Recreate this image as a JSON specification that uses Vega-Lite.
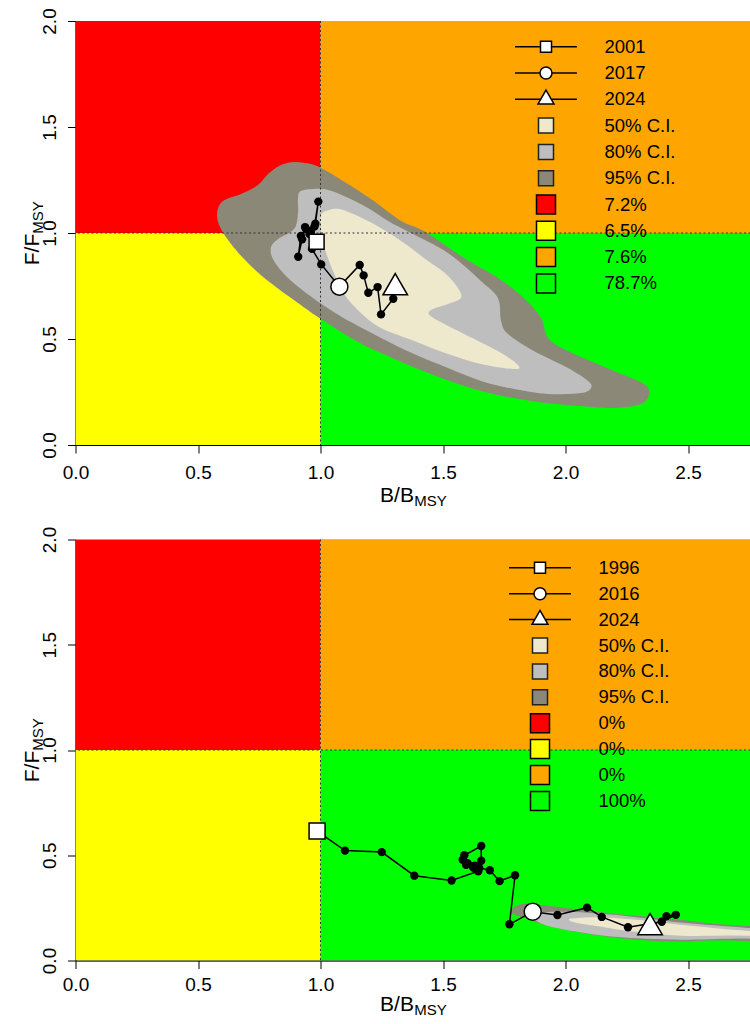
{
  "$schema": "https://vega.github.io/schema/vega-lite/v6.json",
  "background": "white",
  "padding": {"left": 20.5, "top": 7, "right": 0, "bottom": 0},
  "spacing": 16.5,
  "resolve": {"scale": {"fill": "independent", "shape": "independent", "stroke": "independent", "color": "independent"}, "legend": {"fill": "independent", "shape": "independent", "stroke": "independent"}},
  "config": {
    "view": {"stroke": "#888", "strokeWidth": 1},
    "font": "Liberation Sans",
    "axis": {"grid": false, "labelFont": "Liberation Sans", "labelFontSize": 19, "labelColor": "black", "titleFont": "Liberation Sans", "titleColor": "black", "titleFontWeight": "normal", "tickColor": "black", "domainColor": "black", "tickSize": 8, "labelFlush": false, "labelOverlap": false, "zindex": 1},
    "legend": {"title": null, "orient": "none", "labelFont": "Liberation Sans", "labelFontSize": 18.5, "labelColor": "black", "symbolSize": 361, "symbolStrokeWidth": 1.5, "labelLimit": 300, "padding": 0, "symbolOffset": 0, "labelExpr": "trim(datum.label)"}
  },
  "datasets": {
    "quad": [
      {"x1": 0, "x2": 1, "y1": 1, "y2": 2, "zone": "lowB_highF"},
      {"x1": 1, "x2": 3, "y1": 1, "y2": 2, "zone": "highB_highF"},
      {"x1": 0, "x2": 1, "y1": 0, "y2": 1, "zone": "lowB_lowF"},
      {"x1": 1, "x2": 3, "y1": 0, "y2": 1, "zone": "highB_lowF"}
    ],
    "ci_top": [
      {"level": 95, "i": 0, "x": 0.578, "y": 1.094}, {"level": 95, "i": 1, "x": 0.602, "y": 1.151}, {"level": 95, "i": 2, "x": 0.676, "y": 1.184}, {"level": 95, "i": 3, "x": 0.745, "y": 1.226}, {"level": 95, "i": 4, "x": 0.786, "y": 1.278}, {"level": 95, "i": 5, "x": 0.839, "y": 1.321}, {"level": 95, "i": 6, "x": 0.896, "y": 1.335}, {"level": 95, "i": 7, "x": 0.961, "y": 1.325}, {"level": 95, "i": 8, "x": 1.010, "y": 1.302}, {"level": 95, "i": 9, "x": 1.112, "y": 1.231}, {"level": 95, "i": 10, "x": 1.218, "y": 1.151}, {"level": 95, "i": 11, "x": 1.329, "y": 1.057}, {"level": 95, "i": 12, "x": 1.422, "y": 1.009}, {"level": 95, "i": 13, "x": 1.586, "y": 0.882}, {"level": 95, "i": 14, "x": 1.724, "y": 0.788}, {"level": 95, "i": 15, "x": 1.830, "y": 0.693}, {"level": 95, "i": 16, "x": 1.900, "y": 0.599}, {"level": 95, "i": 17, "x": 1.929, "y": 0.505}, {"level": 95, "i": 18, "x": 2.010, "y": 0.443}, {"level": 95, "i": 19, "x": 2.198, "y": 0.349}, {"level": 95, "i": 20, "x": 2.320, "y": 0.288}, {"level": 95, "i": 21, "x": 2.341, "y": 0.241}, {"level": 95, "i": 22, "x": 2.308, "y": 0.193}, {"level": 95, "i": 23, "x": 2.198, "y": 0.175}, {"level": 95, "i": 24, "x": 2.063, "y": 0.184}, {"level": 95, "i": 25, "x": 1.859, "y": 0.208}, {"level": 95, "i": 26, "x": 1.655, "y": 0.255}, {"level": 95, "i": 27, "x": 1.451, "y": 0.335}, {"level": 95, "i": 28, "x": 1.247, "y": 0.434}, {"level": 95, "i": 29, "x": 1.124, "y": 0.505}, {"level": 95, "i": 30, "x": 1.002, "y": 0.594}, {"level": 95, "i": 31, "x": 0.908, "y": 0.670}, {"level": 95, "i": 32, "x": 0.786, "y": 0.774}, {"level": 95, "i": 33, "x": 0.704, "y": 0.858}, {"level": 95, "i": 34, "x": 0.635, "y": 0.948}, {"level": 95, "i": 35, "x": 0.590, "y": 1.028},
      {"level": 80, "i": 0, "x": 0.920, "y": 1.198}, {"level": 80, "i": 1, "x": 0.973, "y": 1.208}, {"level": 80, "i": 2, "x": 1.031, "y": 1.203}, {"level": 80, "i": 3, "x": 1.096, "y": 1.175}, {"level": 80, "i": 4, "x": 1.194, "y": 1.118}, {"level": 80, "i": 5, "x": 1.276, "y": 1.057}, {"level": 80, "i": 6, "x": 1.369, "y": 1.000}, {"level": 80, "i": 7, "x": 1.520, "y": 0.906}, {"level": 80, "i": 8, "x": 1.655, "y": 0.774}, {"level": 80, "i": 9, "x": 1.724, "y": 0.693}, {"level": 80, "i": 10, "x": 1.737, "y": 0.585}, {"level": 80, "i": 11, "x": 1.765, "y": 0.524}, {"level": 80, "i": 12, "x": 1.871, "y": 0.443}, {"level": 80, "i": 13, "x": 2.010, "y": 0.363}, {"level": 80, "i": 14, "x": 2.092, "y": 0.302}, {"level": 80, "i": 15, "x": 2.104, "y": 0.269}, {"level": 80, "i": 16, "x": 2.063, "y": 0.245}, {"level": 80, "i": 17, "x": 1.929, "y": 0.241}, {"level": 80, "i": 18, "x": 1.790, "y": 0.264}, {"level": 80, "i": 19, "x": 1.655, "y": 0.302}, {"level": 80, "i": 20, "x": 1.520, "y": 0.363}, {"level": 80, "i": 21, "x": 1.382, "y": 0.429}, {"level": 80, "i": 22, "x": 1.247, "y": 0.505}, {"level": 80, "i": 23, "x": 1.124, "y": 0.580}, {"level": 80, "i": 24, "x": 1.035, "y": 0.642}, {"level": 80, "i": 25, "x": 0.941, "y": 0.717}, {"level": 80, "i": 26, "x": 0.859, "y": 0.797}, {"level": 80, "i": 27, "x": 0.806, "y": 0.877}, {"level": 80, "i": 28, "x": 0.798, "y": 0.934}, {"level": 80, "i": 29, "x": 0.827, "y": 0.972}, {"level": 80, "i": 30, "x": 0.892, "y": 1.019}, {"level": 80, "i": 31, "x": 0.908, "y": 1.090}, {"level": 80, "i": 32, "x": 0.908, "y": 1.165},
      {"level": 50, "i": 0, "x": 1.002, "y": 1.085}, {"level": 50, "i": 1, "x": 1.035, "y": 1.108}, {"level": 50, "i": 2, "x": 1.076, "y": 1.113}, {"level": 50, "i": 3, "x": 1.124, "y": 1.094}, {"level": 50, "i": 4, "x": 1.218, "y": 1.042}, {"level": 50, "i": 5, "x": 1.329, "y": 0.962}, {"level": 50, "i": 6, "x": 1.439, "y": 0.868}, {"level": 50, "i": 7, "x": 1.512, "y": 0.807}, {"level": 50, "i": 8, "x": 1.561, "y": 0.741}, {"level": 50, "i": 9, "x": 1.573, "y": 0.693}, {"level": 50, "i": 10, "x": 1.520, "y": 0.665}, {"level": 50, "i": 11, "x": 1.451, "y": 0.637}, {"level": 50, "i": 12, "x": 1.455, "y": 0.604}, {"level": 50, "i": 13, "x": 1.586, "y": 0.524}, {"level": 50, "i": 14, "x": 1.724, "y": 0.443}, {"level": 50, "i": 15, "x": 1.806, "y": 0.377}, {"level": 50, "i": 16, "x": 1.790, "y": 0.358}, {"level": 50, "i": 17, "x": 1.655, "y": 0.382}, {"level": 50, "i": 18, "x": 1.520, "y": 0.429}, {"level": 50, "i": 19, "x": 1.382, "y": 0.491}, {"level": 50, "i": 20, "x": 1.247, "y": 0.552}, {"level": 50, "i": 21, "x": 1.165, "y": 0.623}, {"level": 50, "i": 22, "x": 1.096, "y": 0.712}, {"level": 50, "i": 23, "x": 1.051, "y": 0.821}, {"level": 50, "i": 24, "x": 1.018, "y": 0.925}, {"level": 50, "i": 25, "x": 1.002, "y": 1.009}
    ],
    "ci_bot": [
      {"level": 95, "i": 0, "x": 1.782, "y": 0.246}, {"level": 95, "i": 1, "x": 1.831, "y": 0.270}, {"level": 95, "i": 2, "x": 1.929, "y": 0.260}, {"level": 95, "i": 3, "x": 2.063, "y": 0.241}, {"level": 95, "i": 4, "x": 2.198, "y": 0.222}, {"level": 95, "i": 5, "x": 2.337, "y": 0.208}, {"level": 95, "i": 6, "x": 2.471, "y": 0.194}, {"level": 95, "i": 7, "x": 2.606, "y": 0.175}, {"level": 95, "i": 8, "x": 2.798, "y": 0.161}, {"level": 95, "i": 9, "x": 2.920, "y": 0.151}, {"level": 95, "i": 10, "x": 2.920, "y": 0.080}, {"level": 95, "i": 11, "x": 2.798, "y": 0.090}, {"level": 95, "i": 12, "x": 2.606, "y": 0.095}, {"level": 95, "i": 13, "x": 2.471, "y": 0.090}, {"level": 95, "i": 14, "x": 2.337, "y": 0.095}, {"level": 95, "i": 15, "x": 2.198, "y": 0.109}, {"level": 95, "i": 16, "x": 2.063, "y": 0.132}, {"level": 95, "i": 17, "x": 1.929, "y": 0.165}, {"level": 95, "i": 18, "x": 1.831, "y": 0.203}, {"level": 95, "i": 19, "x": 1.786, "y": 0.222},
      {"level": 80, "i": 0, "x": 1.880, "y": 0.222}, {"level": 80, "i": 1, "x": 1.994, "y": 0.232}, {"level": 80, "i": 2, "x": 2.198, "y": 0.217}, {"level": 80, "i": 3, "x": 2.471, "y": 0.180}, {"level": 80, "i": 4, "x": 2.729, "y": 0.156}, {"level": 80, "i": 5, "x": 2.920, "y": 0.142}, {"level": 80, "i": 6, "x": 2.920, "y": 0.095}, {"level": 80, "i": 7, "x": 2.729, "y": 0.104}, {"level": 80, "i": 8, "x": 2.471, "y": 0.099}, {"level": 80, "i": 9, "x": 2.198, "y": 0.113}, {"level": 80, "i": 10, "x": 1.994, "y": 0.147}, {"level": 80, "i": 11, "x": 1.892, "y": 0.180},
      {"level": 50, "i": 0, "x": 2.022, "y": 0.199}, {"level": 50, "i": 1, "x": 2.133, "y": 0.206}, {"level": 50, "i": 2, "x": 2.267, "y": 0.196}, {"level": 50, "i": 3, "x": 2.471, "y": 0.170}, {"level": 50, "i": 4, "x": 2.729, "y": 0.142}, {"level": 50, "i": 5, "x": 2.920, "y": 0.132}, {"level": 50, "i": 6, "x": 2.920, "y": 0.109}, {"level": 50, "i": 7, "x": 2.729, "y": 0.118}, {"level": 50, "i": 8, "x": 2.471, "y": 0.118}, {"level": 50, "i": 9, "x": 2.267, "y": 0.139}, {"level": 50, "i": 10, "x": 2.133, "y": 0.163}, {"level": 50, "i": 11, "x": 2.035, "y": 0.182}
    ],
    "traj_top": [
      {"year": 2001, "b": 0.984, "f": 0.959}, {"year": 2002, "b": 0.960, "f": 1.000}, {"year": 2003, "b": 0.940, "f": 1.020}, {"year": 2004, "b": 0.920, "f": 0.986}, {"year": 2005, "b": 0.909, "f": 0.888}, {"year": 2006, "b": 0.925, "f": 0.970}, {"year": 2007, "b": 0.937, "f": 1.028}, {"year": 2008, "b": 0.960, "f": 1.010}, {"year": 2009, "b": 0.979, "f": 1.044}, {"year": 2010, "b": 0.991, "f": 1.148}, {"year": 2011, "b": 0.975, "f": 1.030}, {"year": 2012, "b": 0.955, "f": 0.995}, {"year": 2013, "b": 0.970, "f": 0.975}, {"year": 2014, "b": 0.990, "f": 0.940}, {"year": 2015, "b": 0.965, "f": 0.925}, {"year": 2016, "b": 1.003, "f": 0.852}, {"year": 2017, "b": 1.077, "f": 0.747}, {"year": 2018, "b": 1.160, "f": 0.849}, {"year": 2019, "b": 1.176, "f": 0.800}, {"year": 2020, "b": 1.195, "f": 0.718}, {"year": 2021, "b": 1.233, "f": 0.745}, {"year": 2022, "b": 1.247, "f": 0.616}, {"year": 2023, "b": 1.297, "f": 0.690}, {"year": 2024, "b": 1.305, "f": 0.742}
    ],
    "traj_bot": [
      {"year": 1996, "b": 0.986, "f": 0.615}, {"year": 1997, "b": 1.100, "f": 0.522}, {"year": 1998, "b": 1.250, "f": 0.515}, {"year": 1999, "b": 1.383, "f": 0.403}, {"year": 2000, "b": 1.535, "f": 0.380}, {"year": 2001, "b": 1.644, "f": 0.424}, {"year": 2002, "b": 1.621, "f": 0.448}, {"year": 2003, "b": 1.594, "f": 0.455}, {"year": 2004, "b": 1.580, "f": 0.479}, {"year": 2005, "b": 1.587, "f": 0.500}, {"year": 2006, "b": 1.656, "f": 0.544}, {"year": 2007, "b": 1.656, "f": 0.474}, {"year": 2008, "b": 1.630, "f": 0.450}, {"year": 2009, "b": 1.600, "f": 0.462}, {"year": 2010, "b": 1.625, "f": 0.440}, {"year": 2011, "b": 1.648, "f": 0.440}, {"year": 2012, "b": 1.691, "f": 0.429}, {"year": 2013, "b": 1.731, "f": 0.377}, {"year": 2014, "b": 1.794, "f": 0.405}, {"year": 2015, "b": 1.771, "f": 0.172}, {"year": 2016, "b": 1.866, "f": 0.232}, {"year": 2017, "b": 1.967, "f": 0.216}, {"year": 2018, "b": 2.088, "f": 0.251}, {"year": 2019, "b": 2.148, "f": 0.207}, {"year": 2020, "b": 2.255, "f": 0.158}, {"year": 2021, "b": 2.393, "f": 0.184}, {"year": 2022, "b": 2.450, "f": 0.217}, {"year": 2023, "b": 2.412, "f": 0.211}, {"year": 2024, "b": 2.345, "f": 0.156}
    ],
    "leg_top": [{"item": "2001"}, {"item": "2017"}, {"item": "2024"}, {"item": "50% C.I."}, {"item": "80% C.I."}, {"item": "95% C.I."}, {"item": "7.2%"}, {"item": "6.5%"}, {"item": "7.6%"}, {"item": "78.7%"}],
    "leg_bot": [{"item": "1996"}, {"item": "2016"}, {"item": "2024"}, {"item": "50% C.I."}, {"item": "80% C.I."}, {"item": "95% C.I."}, {"item": "0% "}, {"item": "0%  "}, {"item": "0%   "}, {"item": "100%"}]
  },
  "vconcat": [
    {
      "width": 675, "height": 424,
      "resolve": {"scale": {"x": "independent", "y": "independent"}, "axis": {"x": "independent", "y": "independent"}},
      "layer": [
        {"data": {"name": "quad"}, "mark": {"type": "rect", "clip": true},
         "encoding": {
           "x": {"field": "x1", "type": "quantitative", "scale": {"domain": [0, 2.755], "nice": false, "zero": false},
                 "axis": {"orient": "bottom", "values": [0, 0.5, 1, 1.5, 2, 2.5], "format": ".1f", "labelPadding": 10.5, "title": "B/B", "titleFontSize": 21, "titleX": 321, "titleY": 56, "titleAlign": "center", "titleBaseline": "alphabetic"}},
           "x2": {"field": "x2"},
           "y": {"field": "y1", "type": "quantitative", "scale": {"domain": [0, 2], "nice": false, "zero": false},
                 "axis": {"orient": "left", "values": [0, 0.5, 1, 1.5, 2], "format": ".1f", "labelAngle": 270, "labelAlign": "center", "labelBaseline": "bottom", "labelPadding": 8.5, "title": "F/F", "titleFontSize": 21, "titleAngle": 270, "titleX": -37.5, "titleY": 228, "titleAlign": "center", "titleBaseline": "alphabetic"}},
           "y2": {"field": "y2"},
           "color": {"field": "zone", "type": "nominal", "scale": {"domain": ["lowB_highF", "highB_highF", "lowB_lowF", "highB_lowF"], "range": ["#FF0000", "#FFA500", "#FFFF00", "#00FF00"]}, "legend": null}
         }},
        {"data": {"name": "ci_top"}, "transform": [{"filter": "datum.level == 95"}],
         "mark": {"type": "line", "interpolate": "cardinal-closed", "fill": "#8B8878", "stroke": null, "clip": true},
         "encoding": {
           "x": {"field": "x", "type": "quantitative", "scale": {"domain": [0, 2.755], "nice": false, "zero": false}, "axis": null},
           "y": {"field": "y", "type": "quantitative", "scale": {"domain": [0, 2], "nice": false, "zero": false}, "axis": null},
           "order": {"field": "i", "type": "quantitative"}
         }},
        {"data": {"name": "ci_top"}, "transform": [{"filter": "datum.level == 80"}],
         "mark": {"type": "line", "interpolate": "cardinal-closed", "fill": "#BEBEBE", "stroke": null, "clip": true},
         "encoding": {
           "x": {"field": "x", "type": "quantitative", "scale": {"domain": [0, 2.755], "nice": false, "zero": false}, "axis": null},
           "y": {"field": "y", "type": "quantitative", "scale": {"domain": [0, 2], "nice": false, "zero": false}, "axis": null},
           "order": {"field": "i", "type": "quantitative"}
         }},
        {"data": {"name": "ci_top"}, "transform": [{"filter": "datum.level == 50"}],
         "mark": {"type": "line", "interpolate": "cardinal-closed", "fill": "#EEE8CD", "stroke": null, "clip": true},
         "encoding": {
           "x": {"field": "x", "type": "quantitative", "scale": {"domain": [0, 2.755], "nice": false, "zero": false}, "axis": null},
           "y": {"field": "y", "type": "quantitative", "scale": {"domain": [0, 2], "nice": false, "zero": false}, "axis": null},
           "order": {"field": "i", "type": "quantitative"}
         }},
        {"data": {"values": [{}]},
         "mark": {"type": "rule", "strokeDash": [2, 2.5], "color": "#333", "strokeWidth": 1},
         "encoding": {
           "x": {"datum": 1, "type": "quantitative", "scale": {"domain": [0, 2.755], "nice": false, "zero": false},
                 "axis": {"orient": "bottom", "ticks": false, "labels": false, "domain": false, "title": "MSY", "titleFontSize": 15, "titleX": 354.5, "titleY": 60, "titleAlign": "center", "titleBaseline": "alphabetic"}}
         }},
        {"data": {"values": [{}]},
         "mark": {"type": "rule", "strokeDash": [2, 2.5], "color": "#333", "strokeWidth": 1},
         "encoding": {
           "y": {"datum": 1, "type": "quantitative", "scale": {"domain": [0, 2], "nice": false, "zero": false},
                 "axis": {"orient": "left", "ticks": false, "labels": false, "domain": false, "title": "MSY", "titleFontSize": 15, "titleAngle": 270, "titleX": -33, "titleY": 196, "titleAlign": "center", "titleBaseline": "alphabetic"}}
         }},
        {"data": {"name": "traj_top"},
         "mark": {"type": "line", "color": "black", "strokeWidth": 1.5},
         "encoding": {
           "x": {"field": "b", "type": "quantitative", "scale": {"domain": [0, 2.755], "nice": false, "zero": false}, "axis": null},
           "y": {"field": "f", "type": "quantitative", "scale": {"domain": [0, 2], "nice": false, "zero": false}, "axis": null},
           "order": {"field": "year", "type": "quantitative"}
         }},
        {"data": {"name": "traj_top"},
         "mark": {"type": "point", "filled": true, "color": "black", "size": 70, "opacity": 1},
         "encoding": {
           "x": {"field": "b", "type": "quantitative", "scale": {"domain": [0, 2.755], "nice": false, "zero": false}, "axis": null},
           "y": {"field": "f", "type": "quantitative", "scale": {"domain": [0, 2], "nice": false, "zero": false}, "axis": null}
         }},
        {"data": {"name": "traj_top"}, "transform": [{"filter": "datum.year == 2001"}],
         "mark": {"type": "point", "shape": "square", "filled": true, "fill": "white", "stroke": "black", "strokeWidth": 1.5, "size": 225, "opacity": 1},
         "encoding": {
           "x": {"field": "b", "type": "quantitative", "scale": {"domain": [0, 2.755], "nice": false, "zero": false}, "axis": null},
           "y": {"field": "f", "type": "quantitative", "scale": {"domain": [0, 2], "nice": false, "zero": false}, "axis": null}
         }},
        {"data": {"name": "traj_top"}, "transform": [{"filter": "datum.year == 2017"}],
         "mark": {"type": "point", "shape": "circle", "filled": true, "fill": "white", "stroke": "black", "strokeWidth": 1.5, "size": 289, "opacity": 1},
         "encoding": {
           "x": {"field": "b", "type": "quantitative", "scale": {"domain": [0, 2.755], "nice": false, "zero": false}, "axis": null},
           "y": {"field": "f", "type": "quantitative", "scale": {"domain": [0, 2], "nice": false, "zero": false}, "axis": null}
         }},
        {"data": {"name": "traj_top"}, "transform": [{"filter": "datum.year == 2024"}],
         "mark": {"type": "point", "shape": "M0,-1.155L1,0.577L-1,0.577Z", "filled": true, "fill": "white", "stroke": "black", "strokeWidth": 1.5, "size": 600, "opacity": 1},
         "encoding": {
           "x": {"field": "b", "type": "quantitative", "scale": {"domain": [0, 2.755], "nice": false, "zero": false}, "axis": null},
           "y": {"field": "f", "type": "quantitative", "scale": {"domain": [0, 2], "nice": false, "zero": false}, "axis": null}
         }},
        {"data": {"name": "leg_top"}, "transform": [{"filter": "false"}],
         "mark": {"type": "point", "filled": true, "opacity": 1},
         "encoding": {
           "fill": {"field": "item", "type": "nominal",
                    "scale": {"domain": ["2001", "2017", "2024", "50% C.I.", "80% C.I.", "95% C.I.", "7.2%", "6.5%", "7.6%", "78.7%"],
                              "range": ["white", "white", "white", "#EEE8CD", "#BEBEBE", "#8B8878", "#FF0000", "#FFFF00", "#FFA500", "#00FF00"]},
                    "legend": {"legendX": 460, "legendY": 15.2, "rowPadding": 1.3, "labelOffset": 48}},
           "stroke": {"field": "item", "type": "nominal",
                    "scale": {"domain": ["2001", "2017", "2024", "50% C.I.", "80% C.I.", "95% C.I.", "7.2%", "6.5%", "7.6%", "78.7%"],
                              "range": ["black", "black", "black", "#222", "#222", "#222", "black", "black", "black", "black"]}},
           "shape": {"field": "item", "type": "nominal",
                     "scale": {"domain": ["2001", "2017", "2024", "50% C.I.", "80% C.I.", "95% C.I.", "7.2%", "6.5%", "7.6%", "78.7%"],
                               "range": ["M0,-1M0,1M-3.26,0H-0.58M0.58,0H3.26M-0.58,-0.58H0.58V0.58H-0.58Z",
                                         "M0,-1M0,1M-3.26,0H-0.63M0.63,0H3.26M0.63,0C0.63,0.348,0.348,0.63,0,0.63C-0.348,0.63,-0.63,0.348,-0.63,0C-0.63,-0.348,-0.348,-0.63,0,-0.63C0.348,-0.63,0.63,-0.348,0.63,0Z",
                                         "M0,-1M0,1M-3.26,0H-0.56M0.56,0H3.26M0,-0.97L0.84,0.49L-0.84,0.49Z",
                                         "M0,-1M0,1M-0.79,-0.79H0.79V0.79H-0.79Z", "M0,-1M0,1M-0.79,-0.79H0.79V0.79H-0.79Z", "M0,-1M0,1M-0.79,-0.79H0.79V0.79H-0.79Z",
                                         "M-1,-1H1V1H-1Z", "M-1,-1H1V1H-1Z", "M-1,-1H1V1H-1Z", "M-1,-1H1V1H-1Z"]}}
         }}
      ]
    },
    {
      "width": 675, "height": 421,
      "resolve": {"scale": {"x": "independent", "y": "independent"}, "axis": {"x": "independent", "y": "independent"}},
      "layer": [
        {"data": {"name": "quad"}, "mark": {"type": "rect", "clip": true},
         "encoding": {
           "x": {"field": "x1", "type": "quantitative", "scale": {"domain": [0, 2.755], "nice": false, "zero": false},
                 "axis": {"orient": "bottom", "values": [0, 0.5, 1, 1.5, 2, 2.5], "format": ".1f", "labelPadding": 7, "title": "B/B", "titleFontSize": 21, "titleX": 321, "titleY": 50, "titleAlign": "center", "titleBaseline": "alphabetic"}},
           "x2": {"field": "x2"},
           "y": {"field": "y1", "type": "quantitative", "scale": {"domain": [0, 2], "nice": false, "zero": false},
                 "axis": {"orient": "left", "values": [0, 0.5, 1, 1.5, 2], "format": ".1f", "labelAngle": 270, "labelAlign": "center", "labelBaseline": "bottom", "labelPadding": 8.5, "title": "F/F", "titleFontSize": 21, "titleAngle": 270, "titleX": -37.5, "titleY": 226.5, "titleAlign": "center", "titleBaseline": "alphabetic"}},
           "y2": {"field": "y2"},
           "color": {"field": "zone", "type": "nominal", "scale": {"domain": ["lowB_highF", "highB_highF", "lowB_lowF", "highB_lowF"], "range": ["#FF0000", "#FFA500", "#FFFF00", "#00FF00"]}, "legend": null}
         }},
        {"data": {"name": "ci_bot"}, "transform": [{"filter": "datum.level == 95"}],
         "mark": {"type": "line", "interpolate": "cardinal-closed", "fill": "#8B8878", "stroke": null, "clip": true},
         "encoding": {
           "x": {"field": "x", "type": "quantitative", "scale": {"domain": [0, 2.755], "nice": false, "zero": false}, "axis": null},
           "y": {"field": "y", "type": "quantitative", "scale": {"domain": [0, 2], "nice": false, "zero": false}, "axis": null},
           "order": {"field": "i", "type": "quantitative"}
         }},
        {"data": {"name": "ci_bot"}, "transform": [{"filter": "datum.level == 80"}],
         "mark": {"type": "line", "interpolate": "cardinal-closed", "fill": "#BEBEBE", "stroke": null, "clip": true},
         "encoding": {
           "x": {"field": "x", "type": "quantitative", "scale": {"domain": [0, 2.755], "nice": false, "zero": false}, "axis": null},
           "y": {"field": "y", "type": "quantitative", "scale": {"domain": [0, 2], "nice": false, "zero": false}, "axis": null},
           "order": {"field": "i", "type": "quantitative"}
         }},
        {"data": {"name": "ci_bot"}, "transform": [{"filter": "datum.level == 50"}],
         "mark": {"type": "line", "interpolate": "cardinal-closed", "fill": "#EEE8CD", "stroke": null, "clip": true},
         "encoding": {
           "x": {"field": "x", "type": "quantitative", "scale": {"domain": [0, 2.755], "nice": false, "zero": false}, "axis": null},
           "y": {"field": "y", "type": "quantitative", "scale": {"domain": [0, 2], "nice": false, "zero": false}, "axis": null},
           "order": {"field": "i", "type": "quantitative"}
         }},
        {"data": {"values": [{}]},
         "mark": {"type": "rule", "strokeDash": [2, 2.5], "color": "#333", "strokeWidth": 1},
         "encoding": {
           "x": {"datum": 1, "type": "quantitative", "scale": {"domain": [0, 2.755], "nice": false, "zero": false},
                 "axis": {"orient": "bottom", "ticks": false, "labels": false, "domain": false, "title": "MSY", "titleFontSize": 15, "titleX": 354.5, "titleY": 54, "titleAlign": "center", "titleBaseline": "alphabetic"}}
         }},
        {"data": {"values": [{}]},
         "mark": {"type": "rule", "strokeDash": [2, 2.5], "color": "#333", "strokeWidth": 1},
         "encoding": {
           "y": {"datum": 1, "type": "quantitative", "scale": {"domain": [0, 2], "nice": false, "zero": false},
                 "axis": {"orient": "left", "ticks": false, "labels": false, "domain": false, "title": "MSY", "titleFontSize": 15, "titleAngle": 270, "titleX": -33, "titleY": 194.5, "titleAlign": "center", "titleBaseline": "alphabetic"}}
         }},
        {"data": {"name": "traj_bot"},
         "mark": {"type": "line", "color": "black", "strokeWidth": 1.5},
         "encoding": {
           "x": {"field": "b", "type": "quantitative", "scale": {"domain": [0, 2.755], "nice": false, "zero": false}, "axis": null},
           "y": {"field": "f", "type": "quantitative", "scale": {"domain": [0, 2], "nice": false, "zero": false}, "axis": null},
           "order": {"field": "year", "type": "quantitative"}
         }},
        {"data": {"name": "traj_bot"},
         "mark": {"type": "point", "filled": true, "color": "black", "size": 70, "opacity": 1},
         "encoding": {
           "x": {"field": "b", "type": "quantitative", "scale": {"domain": [0, 2.755], "nice": false, "zero": false}, "axis": null},
           "y": {"field": "f", "type": "quantitative", "scale": {"domain": [0, 2], "nice": false, "zero": false}, "axis": null}
         }},
        {"data": {"name": "traj_bot"}, "transform": [{"filter": "datum.year == 1996"}],
         "mark": {"type": "point", "shape": "square", "filled": true, "fill": "white", "stroke": "black", "strokeWidth": 1.5, "size": 256, "opacity": 1},
         "encoding": {
           "x": {"field": "b", "type": "quantitative", "scale": {"domain": [0, 2.755], "nice": false, "zero": false}, "axis": null},
           "y": {"field": "f", "type": "quantitative", "scale": {"domain": [0, 2], "nice": false, "zero": false}, "axis": null}
         }},
        {"data": {"name": "traj_bot"}, "transform": [{"filter": "datum.year == 2016"}],
         "mark": {"type": "point", "shape": "circle", "filled": true, "fill": "white", "stroke": "black", "strokeWidth": 1.5, "size": 289, "opacity": 1},
         "encoding": {
           "x": {"field": "b", "type": "quantitative", "scale": {"domain": [0, 2.755], "nice": false, "zero": false}, "axis": null},
           "y": {"field": "f", "type": "quantitative", "scale": {"domain": [0, 2], "nice": false, "zero": false}, "axis": null}
         }},
        {"data": {"name": "traj_bot"}, "transform": [{"filter": "datum.year == 2024"}],
         "mark": {"type": "point", "shape": "M0,-1.155L1,0.577L-1,0.577Z", "filled": true, "fill": "white", "stroke": "black", "strokeWidth": 1.5, "size": 600, "opacity": 1},
         "encoding": {
           "x": {"field": "b", "type": "quantitative", "scale": {"domain": [0, 2.755], "nice": false, "zero": false}, "axis": null},
           "y": {"field": "f", "type": "quantitative", "scale": {"domain": [0, 2], "nice": false, "zero": false}, "axis": null}
         }},
        {"data": {"name": "leg_bot"}, "transform": [{"filter": "false"}],
         "mark": {"type": "point", "filled": true, "opacity": 1},
         "encoding": {
           "fill": {"field": "item", "type": "nominal",
                    "scale": {"domain": ["1996", "2016", "2024", "50% C.I.", "80% C.I.", "95% C.I.", "0% ", "0%  ", "0%   ", "100%"],
                              "range": ["white", "white", "white", "#EEE8CD", "#BEBEBE", "#8B8878", "#FF0000", "#FFFF00", "#FFA500", "#00FF00"]},
                    "legend": {"legendX": 454, "legendY": 17.8, "rowPadding": 0.9, "labelOffset": 48}},
           "stroke": {"field": "item", "type": "nominal",
                    "scale": {"domain": ["1996", "2016", "2024", "50% C.I.", "80% C.I.", "95% C.I.", "0% ", "0%  ", "0%   ", "100%"],
                              "range": ["black", "black", "black", "#222", "#222", "#222", "black", "black", "black", "black"]}},
           "shape": {"field": "item", "type": "nominal",
                     "scale": {"domain": ["1996", "2016", "2024", "50% C.I.", "80% C.I.", "95% C.I.", "0% ", "0%  ", "0%   ", "100%"],
                               "range": ["M0,-1M0,1M-3.26,0H-0.58M0.58,0H3.26M-0.58,-0.58H0.58V0.58H-0.58Z",
                                         "M0,-1M0,1M-3.26,0H-0.63M0.63,0H3.26M0.63,0C0.63,0.348,0.348,0.63,0,0.63C-0.348,0.63,-0.63,0.348,-0.63,0C-0.63,-0.348,-0.348,-0.63,0,-0.63C0.348,-0.63,0.63,-0.348,0.63,0Z",
                                         "M0,-1M0,1M-3.26,0H-0.56M0.56,0H3.26M0,-0.97L0.84,0.49L-0.84,0.49Z",
                                         "M0,-1M0,1M-0.79,-0.79H0.79V0.79H-0.79Z", "M0,-1M0,1M-0.79,-0.79H0.79V0.79H-0.79Z", "M0,-1M0,1M-0.79,-0.79H0.79V0.79H-0.79Z",
                                         "M-1,-1H1V1H-1Z", "M-1,-1H1V1H-1Z", "M-1,-1H1V1H-1Z", "M-1,-1H1V1H-1Z"]}}
         }}
      ]
    }
  ]
}
